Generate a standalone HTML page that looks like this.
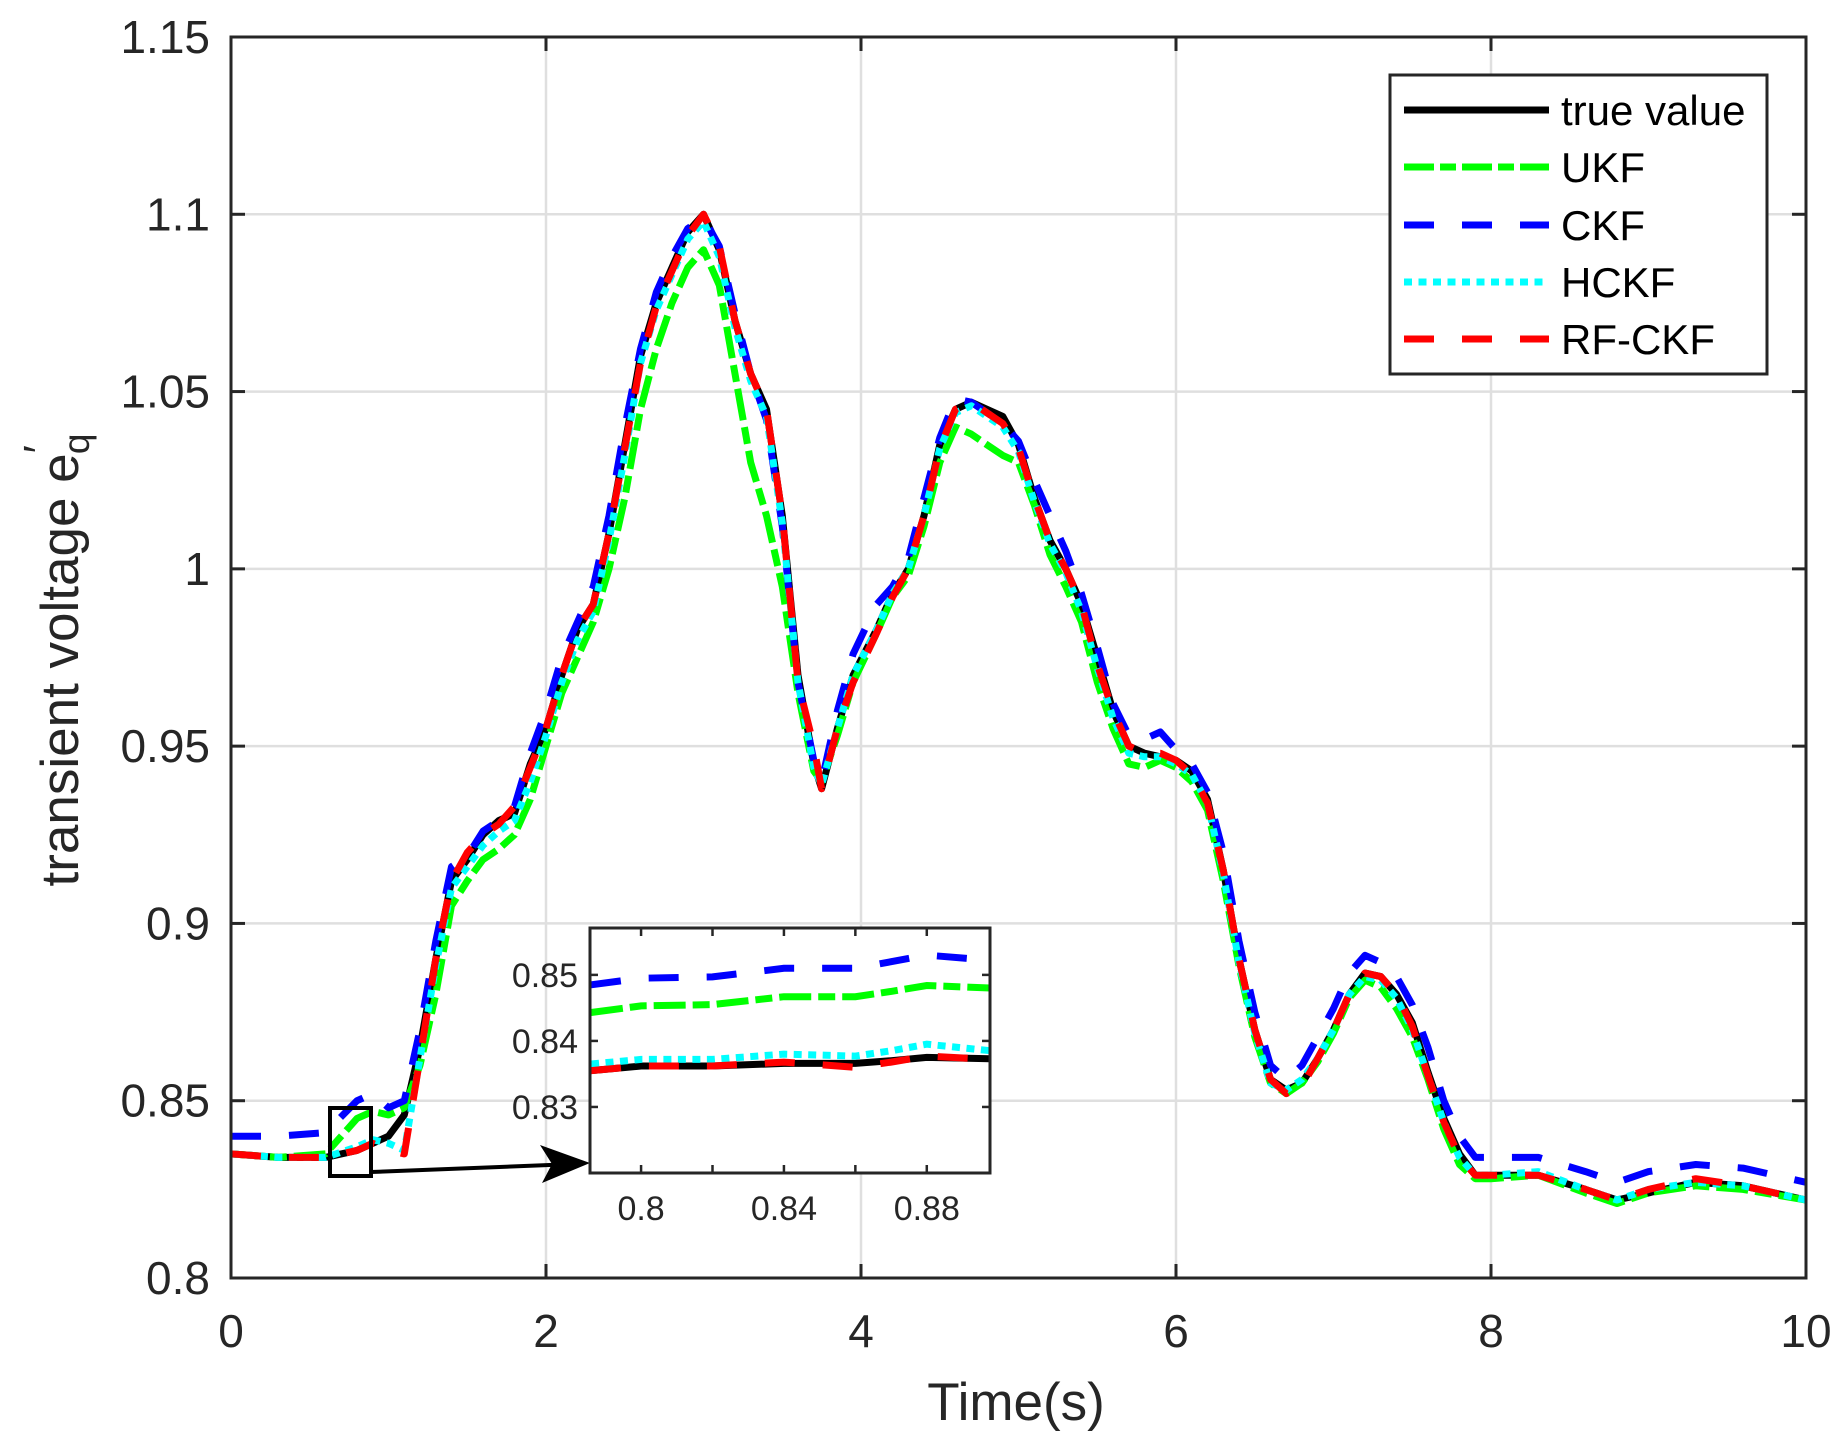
<!DOCTYPE html>
<html><head><meta charset="utf-8"><style>
html,body{margin:0;padding:0;background:#fff;}
svg{display:block;font-family:"Liberation Sans",Arial,sans-serif;}
</style></head><body>
<svg id="chart" width="1846" height="1449" viewBox="0 0 1846 1449" xmlns="http://www.w3.org/2000/svg">
<rect x="0" y="0" width="1846" height="1449" fill="#fff"/>
<g id="grid"></g>
<g id="series"></g>
<g id="axes"></g>
<g id="inset"></g>
<text x="1016" y="1420" font-size="53" text-anchor="middle" fill="#262626">Time(s)</text>
<text transform="translate(78,660) rotate(-90)" font-size="53" text-anchor="middle" fill="#262626">transient voltage e<tspan font-size="44" dy="-24">′</tspan><tspan font-size="37" dy="35" dx="-9">q</tspan></text>
<g id="legend">
<rect x="1390" y="75" width="377" height="299" fill="#fff" stroke="#262626" stroke-width="3"/>
<line x1="1404" y1="110" x2="1549" y2="110" stroke="#000" stroke-width="7"/>
<text x="1561" y="125" font-size="42">true value</text>
<line x1="1404" y1="167" x2="1549" y2="167" stroke="#00ff00" stroke-width="7" stroke-dasharray="30,6,16,6"/>
<text x="1561" y="182" font-size="42">UKF</text>
<line x1="1404" y1="225" x2="1549" y2="225" stroke="#0000ff" stroke-width="7" stroke-dasharray="30,28"/>
<text x="1561" y="240" font-size="42">CKF</text>
<line x1="1404" y1="282" x2="1549" y2="282" stroke="#00ffff" stroke-width="7" stroke-dasharray="8,6.5"/>
<text x="1561" y="297" font-size="42">HCKF</text>
<line x1="1404" y1="339" x2="1549" y2="339" stroke="#ff0000" stroke-width="7" stroke-dasharray="30,28"/>
<text x="1561" y="354" font-size="42">RF-CKF</text>
</g>
</svg>
<script>
const tVals = [0,0.3,0.6,0.8,0.9,1.0,1.1,1.2,1.3,1.4,
1.5,1.6,1.7,1.8,1.9,2.0,2.1,2.2,2.3,2.4,
2.5,2.6,2.7,2.8,2.9,3.0,3.1,3.2,3.3,3.4,
3.5,3.6,3.7,3.75,3.85,3.95,4.1,4.2,4.3,4.4,
4.5,4.6,4.7,4.8,4.9,5.0,5.1,5.2,5.3,5.4,
5.5,5.6,5.7,5.8,5.9,6.0,6.1,6.2,6.3,6.4,
6.5,6.6,6.7,6.8,6.9,7.0,7.1,7.2,7.3,7.4,
7.5,7.6,7.7,7.8,7.9,8.0,8.3,8.6,8.8,9.0,
9.3,9.6,10];
const trueVals = [0.835,0.834,0.834,0.836,0.838,0.840,0.846,0.865,0.890,0.912,
0.918,0.925,0.929,0.931,0.945,0.955,0.970,0.983,0.990,1.010,
1.035,1.060,1.075,1.085,1.095,1.100,1.090,1.070,1.055,1.045,
1.015,0.970,0.945,0.938,0.955,0.970,0.983,0.993,1.000,1.015,
1.035,1.045,1.047,1.045,1.043,1.035,1.020,1.008,1.000,0.990,
0.975,0.960,0.950,0.948,0.947,0.946,0.943,0.935,0.915,0.890,
0.870,0.856,0.853,0.855,0.862,0.870,0.880,0.886,0.885,0.880,
0.872,0.858,0.845,0.835,0.829,0.829,0.829,0.825,0.822,0.824,
0.827,0.826,0.822];
const ukfVals = [0.835,0.834,0.835,0.845,0.847,0.846,0.848,0.860,0.880,0.905,
0.912,0.918,0.921,0.925,0.935,0.950,0.965,0.975,0.985,1.000,
1.020,1.045,1.062,1.075,1.085,1.090,1.080,1.055,1.030,1.015,
0.995,0.965,0.943,0.940,0.953,0.968,0.982,0.992,0.998,1.012,
1.030,1.040,1.038,1.035,1.032,1.030,1.018,1.004,0.995,0.985,
0.968,0.955,0.945,0.944,0.946,0.944,0.940,0.932,0.912,0.888,
0.868,0.855,0.852,0.855,0.861,0.869,0.879,0.884,0.882,0.876,
0.868,0.856,0.842,0.832,0.828,0.828,0.829,0.824,0.821,0.824,
0.826,0.825,0.822];
const ckfVals = [0.840,0.840,0.841,0.850,0.852,0.848,0.850,0.870,0.895,0.916,
0.919,0.926,0.929,0.933,0.948,0.960,0.975,0.985,0.995,1.015,
1.040,1.062,1.078,1.088,1.096,1.099,1.091,1.072,1.055,1.042,
1.012,0.968,0.946,0.940,0.960,0.976,0.990,0.995,1.003,1.020,
1.037,1.048,1.047,1.044,1.041,1.036,1.025,1.015,1.005,0.993,
0.978,0.962,0.953,0.952,0.954,0.949,0.945,0.937,0.920,0.895,
0.875,0.860,0.856,0.860,0.868,0.876,0.886,0.891,0.889,0.885,
0.877,0.865,0.850,0.840,0.834,0.834,0.834,0.830,0.827,0.830,
0.832,0.831,0.827];
const hckfVals = [0.835,0.834,0.834,0.837,0.839,0.838,0.836,0.862,0.888,0.910,
0.916,0.922,0.926,0.929,0.940,0.953,0.968,0.980,0.988,1.008,
1.032,1.058,1.073,1.083,1.093,1.098,1.088,1.068,1.053,1.043,
1.013,0.968,0.944,0.939,0.955,0.970,0.983,0.993,1.000,1.015,
1.034,1.044,1.046,1.043,1.040,1.033,1.019,1.007,0.999,0.988,
0.972,0.958,0.948,0.947,0.947,0.945,0.942,0.934,0.914,0.889,
0.869,0.855,0.853,0.856,0.862,0.870,0.880,0.885,0.884,0.879,
0.870,0.857,0.844,0.834,0.829,0.829,0.830,0.825,0.822,0.825,
0.827,0.826,0.822];
const rfckfVals = [0.835,0.834,0.834,0.836,0.838,0.836,0.835,0.862,0.890,0.912,
0.920,0.925,0.928,0.933,0.944,0.955,0.970,0.983,0.990,1.010,
1.034,1.058,1.074,1.084,1.094,1.100,1.091,1.070,1.055,1.045,
1.015,0.968,0.950,0.938,0.955,0.968,0.982,0.992,1.000,1.015,
1.034,1.045,1.047,1.044,1.041,1.034,1.020,1.008,1.000,0.990,
0.973,0.960,0.950,0.948,0.948,0.946,0.942,0.934,0.915,0.890,
0.870,0.856,0.852,0.854,0.862,0.870,0.880,0.886,0.885,0.880,
0.871,0.857,0.844,0.834,0.829,0.829,0.829,0.825,0.822,0.825,
0.828,0.826,0.822];
const xTicks = [0,2,4,6,8,10];
const xTickLabels = ["0","2","4","6","8","10"];
const yTicks = [0.8,0.85,0.9,0.95,1,1.05,1.1,1.15];
const yTickLabels = ["0.8","0.85","0.9","0.95","1","1.05","1.1","1.15"];
const insetT = [0.786,0.80,0.82,0.84,0.86,0.87,0.88,0.898];
const insetTrue = [0.8355,0.8362,0.8362,0.8366,0.8366,0.8370,0.8375,0.8373];
const insetUkf = [0.8443,0.8453,0.8455,0.8467,0.8467,0.8475,0.8484,0.8480];
const insetCkf = [0.8485,0.8495,0.8497,0.8510,0.8510,0.8520,0.8530,0.8522];
const insetHckf = [0.8365,0.8372,0.8372,0.8380,0.8377,0.8385,0.8395,0.8385];
const insetRf = [0.8355,0.8362,0.8362,0.8368,0.8360,0.8368,0.8377,0.8372];
const insetXTicks = [0.8,0.82,0.84,0.86,0.88];
const insetXLabels = ["0.8","","0.84","","0.88"];
const insetYTicks = [0.83,0.84,0.85];
const insetYLabels = ["0.83","0.84","0.85"];

const NS = "http://www.w3.org/2000/svg";
const L=231,R=1806,T=37,B=1278;
const X0=0,X1=10,Y0=0.8,Y1=1.15;
function xs(v){return L+(v-X0)/(X1-X0)*(R-L);}
function ys(v){return B-(v-Y0)/(Y1-Y0)*(B-T);}
const IL=590,IR=990,IT=928,IB=1173;
const IX0=0.7857,IX1=0.8977,IY0=0.8200,IY1=0.8571;
function ixs(v){return IL+(v-IX0)/(IX1-IX0)*(IR-IL);}
function iys(v){return IB-(v-IY0)/(IY1-IY0)*(IB-IT);}
function mk(tag,attrs,parent){const e=document.createElementNS(NS,tag);for(const k in attrs)e.setAttribute(k,attrs[k]);parent.appendChild(e);return e;}

const grid=document.getElementById('grid');
xTicks.forEach(t=>{const g=mk('line',{x1:xs(t),x2:xs(t),y1:T,y2:B,stroke:'#dfdfdf','stroke-width':2.5},grid);

});
yTicks.forEach(t=>{const g=mk('line',{x1:L,x2:R,y1:ys(t),y2:ys(t),stroke:'#dfdfdf','stroke-width':2.5},grid);

});

const styles=[
 {d:trueVals,id:'true-value',c:'#000000',dash:'none'},
 {d:ukfVals,id:'ukf',c:'#00ff00',dash:'32,7,17,7'},
 {d:ckfVals,id:'ckf',c:'#0000ff',dash:'30,28'},
 {d:hckfVals,id:'hckf',c:'#00ffff',dash:'8,6.5'},
 {d:rfckfVals,id:'rf-ckf',c:'#ff0000',dash:'30,28'}];
const series=document.getElementById('series');
styles.forEach(s=>{
 const pts=tVals.map((t,i)=>xs(t).toFixed(1)+','+ys(s.d[i]).toFixed(1)).join(' ');
 const p=mk('polyline',{points:pts,fill:'none',stroke:s.c,'stroke-width':7,'stroke-dasharray':s.dash,'stroke-linejoin':'round'},series);
 
 
});

const axes=document.getElementById('axes');
const fr=mk('rect',{x:L,y:T,width:R-L,height:B-T,fill:'none',stroke:'#262626','stroke-width':3},axes);


xTicks.forEach((t,i)=>{
 mk('line',{x1:xs(t),x2:xs(t),y1:B,y2:B-14,stroke:'#262626','stroke-width':3},axes);
 mk('line',{x1:xs(t),x2:xs(t),y1:T,y2:T+14,stroke:'#262626','stroke-width':3},axes);
 const tx=mk('text',{x:xs(t),y:1347,'font-size':46,'text-anchor':'middle',fill:'#262626'},axes);
 tx.textContent=xTickLabels[i];
 
 
});
yTicks.forEach((t,i)=>{
 mk('line',{x1:L,x2:L+14,y1:ys(t),y2:ys(t),stroke:'#262626','stroke-width':3},axes);
 mk('line',{x1:R,x2:R-14,y1:ys(t),y2:ys(t),stroke:'#262626','stroke-width':3},axes);
 const tx=mk('text',{x:210,y:ys(t)+16,'font-size':46,'text-anchor':'end',fill:'#262626'},axes);
 tx.textContent=yTickLabels[i];
 
 
});
const zr=mk('rect',{x:330,y:1108,width:41,height:68,fill:'none',stroke:'#000','stroke-width':4},axes);


const ar=mk('line',{x1:371,y1:1172,x2:575,y2:1164,stroke:'#000','stroke-width':4},axes);


const ah=mk('polygon',{points:'590,1163 540,1145 552,1164 542,1183',fill:'#000'},axes);



const inset=document.getElementById('inset');
mk('rect',{x:IL,y:IT,width:IR-IL,height:IB-IT,fill:'#fff'},inset);
const clip=mk('clipPath',{id:'ic'},inset);
mk('rect',{x:IL,y:IT,width:IR-IL,height:IB-IT},clip);
const ig=mk('g',{'clip-path':'url(#ic)'},inset);
const isty=[
 {d:insetTrue,id:'true-value',c:'#000000',dash:'none'},
 {d:insetUkf,id:'ukf',c:'#00ff00',dash:'32,7,17,7'},
 {d:insetCkf,id:'ckf',c:'#0000ff',dash:'30,28'},
 {d:insetHckf,id:'hckf',c:'#00ffff',dash:'8,6.5'},
 {d:insetRf,id:'rf-ckf',c:'#ff0000',dash:'30,28'}];
isty.forEach(s=>{
 const pts=insetT.map((t,i)=>ixs(t).toFixed(1)+','+iys(s.d[i]).toFixed(1)).join(' ');
 const p=mk('polyline',{points:pts,fill:'none',stroke:s.c,'stroke-width':7,'stroke-dasharray':s.dash},ig);
 
 
});
const ifr=mk('rect',{x:IL,y:IT,width:IR-IL,height:IB-IT,fill:'none',stroke:'#262626','stroke-width':3},inset);


insetXTicks.forEach((t,i)=>{
 mk('line',{x1:ixs(t),x2:ixs(t),y1:IB,y2:IB-8,stroke:'#262626','stroke-width':2.5},inset);
 mk('line',{x1:ixs(t),x2:ixs(t),y1:IT,y2:IT+8,stroke:'#262626','stroke-width':2.5},inset);
 if(insetXLabels[i]){const tx=mk('text',{x:ixs(t),y:1220,'font-size':34,'text-anchor':'middle',fill:'#262626'},inset);
 tx.textContent=insetXLabels[i];
 
 }
});
insetYTicks.forEach((t,i)=>{
 mk('line',{x1:IL,x2:IL+8,y1:iys(t),y2:iys(t),stroke:'#262626','stroke-width':2.5},inset);
 mk('line',{x1:IR,x2:IR-8,y1:iys(t),y2:iys(t),stroke:'#262626','stroke-width':2.5},inset);
 const tx=mk('text',{x:578,y:iys(t)+12,'font-size':34,'text-anchor':'end',fill:'#262626'},inset);
 tx.textContent=insetYLabels[i];
 
 
});
</script>
</body></html>
